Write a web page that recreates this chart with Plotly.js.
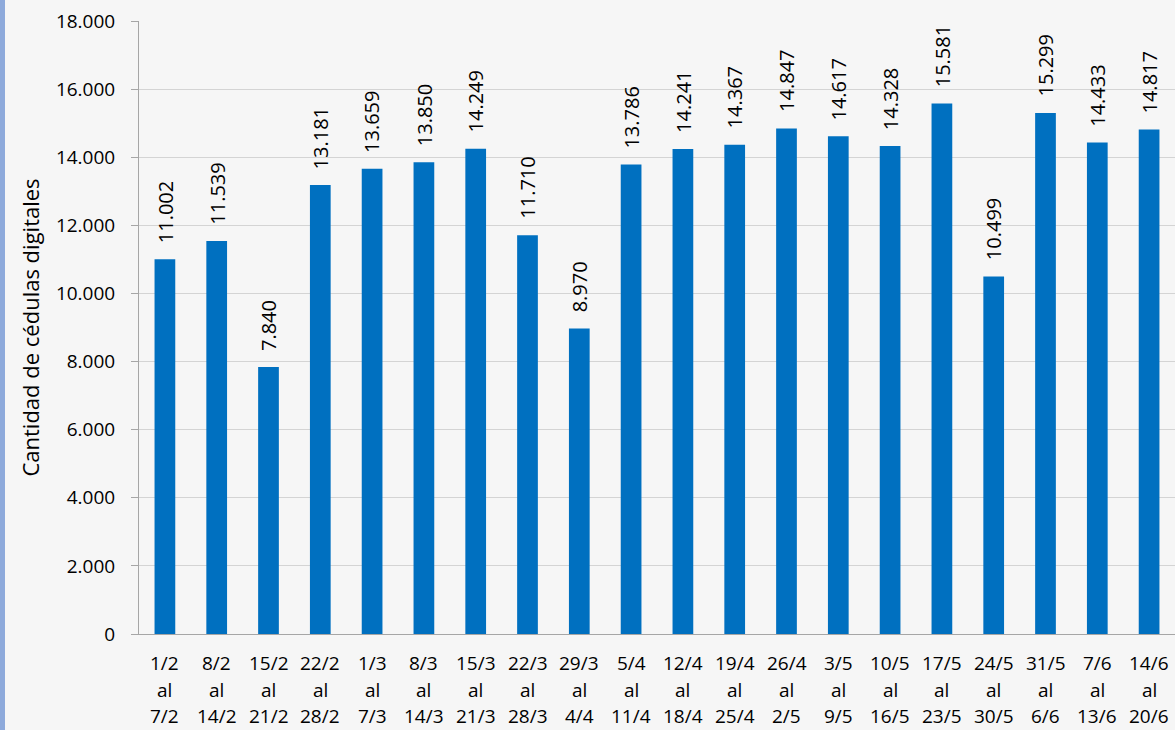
<!DOCTYPE html>
<html><head><meta charset="utf-8">
<script src="https://cdn.plot.ly/plotly-3.0.1.min.js"></script>
<style>html,body{margin:0;padding:0;background:#f6f6f6;}#c{width:1175px;height:730px;}</style>
</head><body><div id="c"></div>
<script>
const startDates = ["1/2","8/2","15/2","22/2","1/3","8/3","15/3","22/3","29/3","5/4","12/4","19/4","26/4","3/5","10/5","17/5","24/5","31/5","7/6","14/6"];
const endDates = ["7/2","14/2","21/2","28/2","7/3","14/3","21/3","28/3","4/4","11/4","18/4","25/4","2/5","9/5","16/5","23/5","30/5","6/6","13/6","20/6"];
const joiner = "al";
const values = [11002,11539,7840,13181,13659,13850,14249,11710,8970,13786,14241,14367,14847,14617,14328,15581,10499,15299,14433,14817];
const yTitle = "Cantidad de cédulas digitales";
const fontFam = "'Open Sans', sans-serif";

const categories = startDates.map((s, i) => s + " al " + endDates[i]);
const fmt = v => String(v).replace(/\B(?=(\d{3})+(?!\d))/g, ".");

const annotations = [];
// Multi-line category labels
const rows = [startDates.map(String), startDates.map(() => joiner), endDates];
const rowY = [-29/613, -56/613, -82/613];
rows.forEach((r, ri) => r.forEach((t, i) => annotations.push({
  x: categories[i], xref: 'x', y: rowY[ri], yref: 'paper', text: t, showarrow: false,
  xanchor: 'center', yanchor: 'middle', font: {family: fontFam, size: 19, color: '#000'}
})));
// Value labels
values.forEach((v, i) => annotations.push({
  x: categories[i], xref: 'x', y: v, yref: 'y', text: fmt(v), showarrow: false,
  textangle: -90, xanchor: 'center', yanchor: 'bottom', yshift: 14,
  font: {family: fontFam, size: 20, color: '#000'}
}));

Plotly.newPlot('c', [{
  type: 'bar', x: categories, y: values,
  marker: {color: '#0070C0'}, hoverinfo: 'none'
}], {
  width: 1175, height: 730,
  separators: ',.',
  margin: {l: 139, r: 0, t: 21, b: 96},
  paper_bgcolor: '#f6f6f6', plot_bgcolor: '#f6f6f6',
  bargap: 0.6,
  font: {family: fontFam, size: 19, color: '#000'},
  xaxis: {type: 'category', showgrid: false, showline: true, linecolor: '#a6a6a6', linewidth: 1,
          ticks: '', showticklabels: false, fixedrange: true, automargin: false},
  yaxis: {range: [0, 18000], dtick: 2000, tickformat: ',', showgrid: true, gridcolor: '#d4d4d4',
          showline: true, linecolor: '#a6a6a6', ticks: 'outside', ticklen: 7, tickcolor: '#a6a6a6',
          ticklabelstandoff: 12,
          tickfont: {size: 19}, zeroline: false, automargin: false,
          title: {text: yTitle, font: {size: 22}, standoff: 10}},
  annotations: annotations,
  shapes: [{type: 'rect', xref: 'paper', yref: 'paper', x0: -139/1036, x1: -134/1036, y0: -96/613, y1: 1+21/613,
            fillcolor: '#8eaadb', line: {width: 0}}],
  showlegend: false
}, {staticPlot: true});
</script></body></html>
